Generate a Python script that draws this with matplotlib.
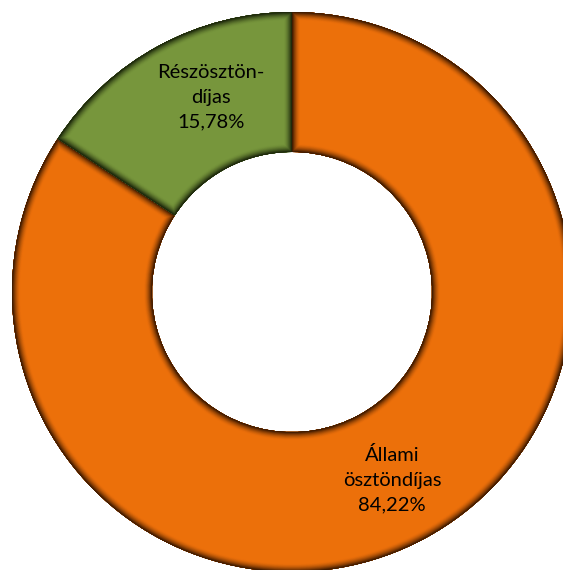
import numpy as np
import matplotlib
matplotlib.use("Agg")
import matplotlib.pyplot as plt
from matplotlib.colors import to_rgb
from matplotlib.patches import PathPatch

# data
categories = ["Állami\nösztöndíjas", "Részösztön-\ndíjas"]
shares = [84.22, 15.78]
colors = ["#EC700A", "#77963C"]
dark_colors = ["#3A1800", "#1A240A"]


def blend(c1, c2, t):
    a, b = np.array(to_rgb(c1)), np.array(to_rgb(c2))
    return tuple(a * (1 - t) + b * t)


fig = plt.figure(figsize=(5.63, 5.70), dpi=100)
ax = fig.add_axes([0, 0, 1, 1])

center = (292, 278)
radius = 280

labels = [f"{c}\n{v:.2f}%".replace(".", ",") for c, v in zip(categories, shares)]

wedges, texts = ax.pie(
    shares, colors=colors, startangle=90, counterclock=False,
    center=center, radius=radius, labels=labels, labeldistance=0.77,
    wedgeprops=dict(width=140, linewidth=0),
    textprops=dict(fontsize=14.5, family=["Lato", "DejaVu Sans"],
                   ha="center", va="center", linespacing=1.55),
    frame=True,
)
ax.axis("off")
ax.set_xlim(0, 563)
ax.set_ylim(0, 570)
ax.set_aspect("equal")

# bevel: darker toward each edge, strokes clipped to the wedge itself
steps = 20
for w, base, dark in zip(wedges, colors, dark_colors):
    for i in range(steps):
        t = (i + 1) / steps
        lw = (steps - i) * 0.8 * 0.72
        p = PathPatch(w.get_path(), fill=False,
                      edgecolor=blend(base, dark, t ** 1.6), linewidth=lw,
                      transform=w.get_transform(), zorder=w.get_zorder() + 0.1)
        ax.add_patch(p)
        p.set_clip_path(w)

# label spots as placed in the original
texts[1].set_position((211, 570 - 97))
texts[0].set_position((392, 570 - 480))
for t in texts:
    t.set_zorder(5)

fig.savefig("out.png", dpi=100)
